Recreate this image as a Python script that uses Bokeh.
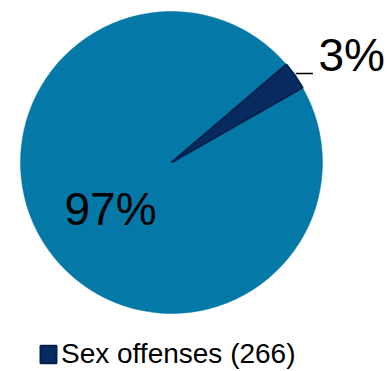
import numpy as np
from bokeh.plotting import figure
from bokeh.models import ColumnDataSource, Legend, LegendItem, Range1d
from bokeh.core.properties import value
from bokeh.embed import file_html
from bokeh.resources import INLINE

# ---- data ----
categories = ["Other offenses", "Sex offenses (266)"]
shares = [97, 3]
labels = ["97%", "3%"]
colors = ["#0479A8", "#072B60"]

W, H = 389, 371
p = figure(width=W, height=H, output_backend="svg", toolbar_location=None,
           x_range=Range1d(0, W), y_range=Range1d(0, H), min_border=0)
p.axis.visible = False
p.grid.visible = False
p.outline_line_color = None
p.background_fill_color = "white"

cx, cy, r = 171, 209, 151
start0 = np.deg2rad(29.7)
vals = np.array(shares, dtype=float)
ang = vals / vals.sum() * 2 * np.pi
ends_small = start0 + ang[1]
starts = [ends_small, start0]
ends = [ends_small + ang[0], ends_small]

src = ColumnDataSource(dict(x=[cx, cx], y=[cy, cy], start=starts, end=ends,
                            color=colors, cat=categories,
                            lc=["#0479A8", "#03214D"], lw=[0.5, 2.0]))
pie = p.wedge(x="x", y="y", radius=r, start_angle="start", end_angle="end",
              fill_color="color", line_color="lc", line_width="lw",
              source=src)

# leader line for small slice
mid = (starts[1] + ends[1]) / 2
lx0 = cx + (r + 1) * np.cos(mid)
p.line(x=[lx0, lx0 + 17], y=[298, 298], line_color="black", line_width=1.3)

p.text(x=[318], y=[317], text=[labels[1]], text_font=value("Liberation Sans"),
       text_font_size="46px", text_color="black", text_baseline="alphabetic")
p.text(x=[64], y=[163], text=[labels[0]], text_font=value("Liberation Sans"),
       text_font_size="46px", text_color="black", text_baseline="alphabetic")

legend = Legend(items=[LegendItem(label=categories[1], renderers=[pie], index=1)],
                location=(38, 1), padding=0, margin=0, spacing=0,
                glyph_width=20, glyph_height=22, label_standoff=3,
                label_text_font="Liberation Sans", label_text_font_size="28px",
                label_text_color="black", border_line_color=None,
                background_fill_alpha=0)
p.add_layout(legend, "center")

open("out.html", "w").write(file_html(p, INLINE))
